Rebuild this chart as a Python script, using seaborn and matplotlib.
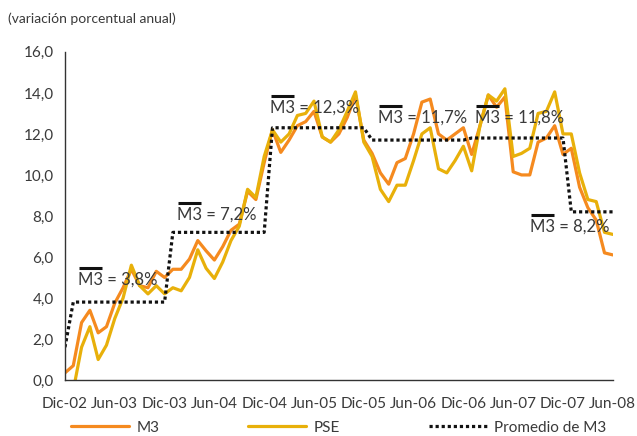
import numpy as np
import pandas as pd
import matplotlib
matplotlib.use("Agg")
import matplotlib.pyplot as plt
import seaborn as sns

# monthly data, Dic-02 .. Jun-08
m3 = [0.35, 0.7, 2.8, 3.4, 2.3, 2.6, 3.75, 4.5, 5.4, 4.6, 4.5, 5.3,
      5.0, 5.4, 5.4, 5.9, 6.8, 6.3, 5.85, 6.5, 7.3, 7.6, 9.2, 8.8,
      10.6, 12.2, 11.1, 11.7, 12.4, 12.6, 13.1, 11.85, 11.6, 12.0, 12.8, 13.9,
      11.7, 11.05, 10.1, 9.55, 10.6, 10.8, 12.0, 13.55, 13.7, 12.0, 11.7, 12.0,
      12.3, 11.0, 12.4, 13.9, 13.3, 13.8, 10.15, 10.0, 10.0, 11.6, 11.8, 12.4,
      11.0, 11.3, 9.4, 8.4, 7.8, 6.2, 6.1]
pse = [-1.0, -0.5, 1.6, 2.6, 1.0, 1.7, 3.0, 4.0, 5.6, 4.6, 4.2, 4.6,
       4.2, 4.5, 4.35, 5.0, 6.35, 5.45, 4.95, 5.75, 6.8, 7.5, 9.3, 8.9,
       10.9, 12.2, 11.6, 12.0, 12.9, 13.0, 13.6, 11.85, 11.6, 12.2, 13.1, 14.05,
       11.6, 10.9, 9.3, 8.7, 9.5, 9.5, 10.7, 12.0, 12.3, 10.3, 10.1, 10.7,
       11.4, 10.2, 12.4, 13.9, 13.6, 14.2, 10.9, 11.05, 11.3, 13.0, 13.1, 14.05,
       12.0, 12.0, 10.1, 8.8, 8.7, 7.2, 7.1]
# yearly averages of M3 (2002 .. 2008) and months per year in the chart
avg_values = [1.6, 3.8, 7.2, 12.3, 11.7, 11.8, 8.2]
avg_months = [1, 12, 12, 12, 12, 12, 6]
avg_labels = ["", "3,8%", "7,2%", "12,3%", "11,7%", "11,8%", "8,2%"]

tick_labels = ["Dic-02", "Jun-03", "Dic-03", "Jun-04", "Dic-04", "Jun-05",
               "Dic-05", "Jun-06", "Dic-06", "Jun-07", "Dic-07", "Jun-08"]

promedio = np.repeat(avg_values, avg_months)
mes = np.arange(len(m3))
df = pd.DataFrame({"mes": mes, "M3": m3, "PSE": pse, "Promedio de M3": promedio})

sns.set_style("white")
plt.rcParams["font.family"] = ["Lato", "DejaVu Sans"]

txt = "#3a3a3a"
fig = plt.figure(figsize=(6.37, 4.36), dpi=100)
ax = fig.add_axes([0.102, 0.1284, 0.860, 0.7526])

sns.lineplot(data=df, x="mes", y="M3", ax=ax, color="#F58A1F", lw=2.3, label="M3")
sns.lineplot(data=df, x="mes", y="PSE", ax=ax, color="#E8B00A", lw=2.3, label="PSE")
sns.lineplot(data=df, x="mes", y="Promedio de M3", ax=ax, color="#111111", lw=2.3,
             label="Promedio de M3", linestyle=(0, (1, 0.9)))

ax.set_xlim(0, len(m3) - 1)
ax.set_ylim(0, 16)
ax.set_xticks(np.arange(0, len(m3), 6))
ax.set_xticklabels(tick_labels)
ax.set_yticks(np.arange(0, 17, 2))
ax.set_yticklabels([f"{v:.1f}".replace(".", ",") for v in np.arange(0, 17, 2)])
ax.set_xlabel("")
ax.set_ylabel("")
for s in ["top", "right"]:
    ax.spines[s].set_visible(False)
for s in ["left", "bottom"]:
    ax.spines[s].set_color("#333333")
    ax.spines[s].set_linewidth(1.0)
ax.tick_params(axis="both", direction="in", length=4, color="#333333",
               labelsize=11, labelcolor=txt)
ax.tick_params(axis="x", pad=12)
ax.tick_params(axis="y", pad=8)

# average labels with overline on M3
label_pos = [None, (1.55, 4.88), (13.5, 8.05), (24.7, 13.27), (37.7, 12.78),
             (49.4, 12.78), (56.0, 7.46)]
for lab, pos in zip(avg_labels, label_pos):
    if pos is None:
        continue
    x, y = pos
    ax.text(x, y, f"M3 = {lab}", ha="left", va="center", fontsize=12, color=txt)
    ax.plot([x + 0.1, x + 2.9], [y + 0.6, y + 0.6], color="#111111", lw=2.2,
            solid_capstyle="butt")

fig.text(0.013, 0.958, "(variación porcentual anual)", fontsize=10, color=txt,
         ha="left", va="center")

leg = ax.legend(loc="center left", bbox_to_anchor=(0.0, -0.145, 1.0, 0.0),
                ncol=3, mode="expand", frameon=False, handlelength=3.8,
                fontsize=11, borderaxespad=0, handletextpad=0.5)
for t in leg.get_texts():
    t.set_color(txt)

fig.savefig("out.png", dpi=100)
